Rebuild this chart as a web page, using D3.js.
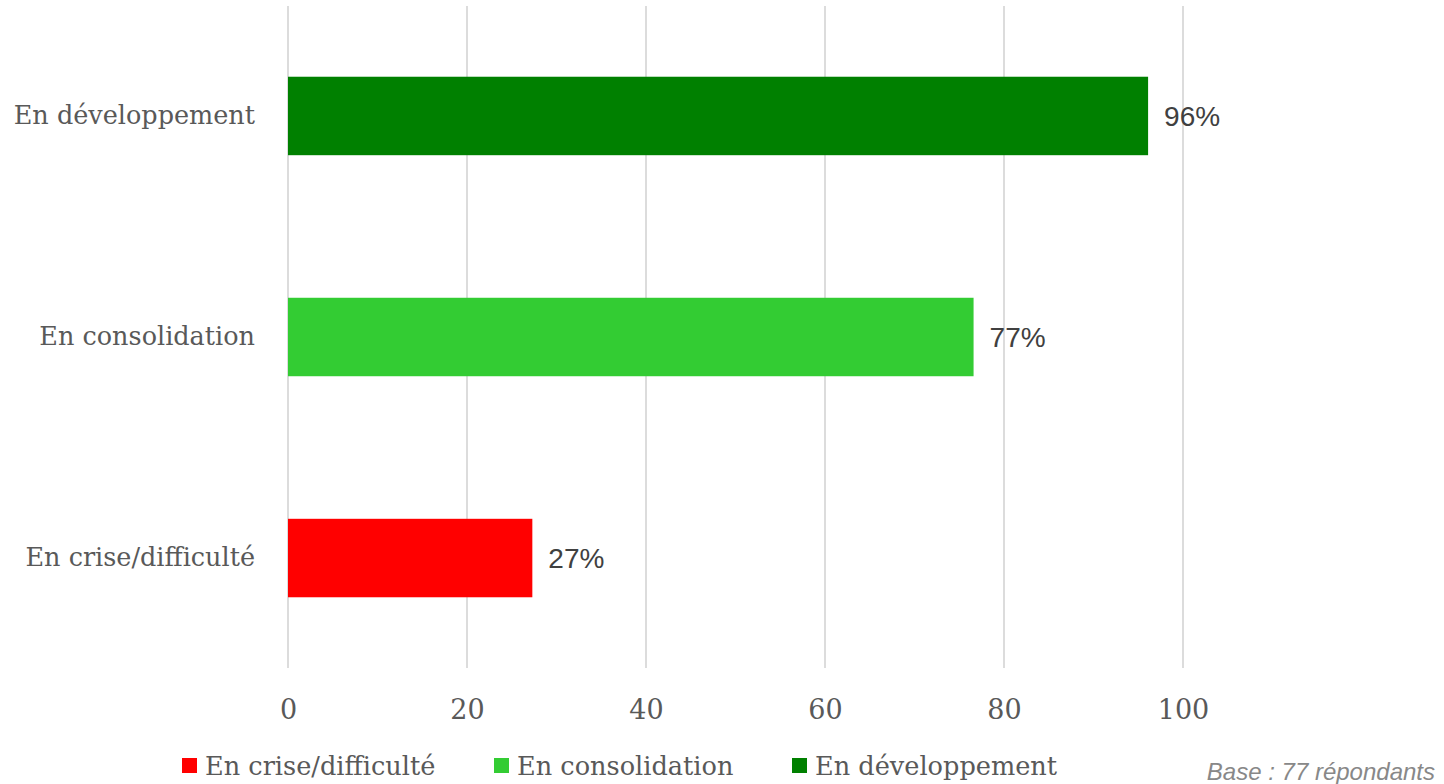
<!DOCTYPE html>
<html><head><meta charset="utf-8">
<script src="https://cdn.jsdelivr.net/npm/d3@7"></script>
<style>body{margin:0;background:#fff;} svg{display:block;}</style>
</head><body>
<svg id="chart" width="1444" height="784"></svg>
<script>
const categories = ["En développement", "En consolidation", "En crise/difficulté"];
const values = [96.1, 76.6, 27.3];
const valueLabels = ["96%", "77%", "27%"];
const colors = ["#008000", "#33cc33", "#ff0000"];
const ticks = [0, 20, 40, 60, 80, 100];
const legendItems = ["En crise/difficulté", "En consolidation", "En développement"];
const legendColors = ["#ff0000", "#33cc33", "#008000"];
const note = "Base : 77 répondants";

const svg = d3.select("#chart");
const serif = "'DejaVu Serif', 'Liberation Serif', serif";
const sans = "'Liberation Sans', Arial, sans-serif";

const x = d3.scaleLinear().domain([0, 100]).range([288, 1183]);
const y = d3.scaleBand().domain(categories).range([6, 668]).paddingInner(0.645).paddingOuter(0.32);

// gridlines
svg.append("g").selectAll("line").data(ticks).join("line")
  .attr("x1", d => x(d)).attr("x2", d => x(d))
  .attr("y1", 6).attr("y2", 668)
  .attr("stroke", "#dcdcdc").attr("stroke-width", 2);

// x axis labels
const xAxis = d3.axisBottom(x).tickValues(ticks).tickSize(0).tickPadding(0);
const gx = svg.append("g").attr("transform", "translate(0,719)").call(xAxis);
gx.select(".domain").remove();
gx.selectAll("text").attr("font-family", serif).attr("font-size", 27).attr("fill", "#595959").attr("dy", 0);

// y axis labels
const yAxis = d3.axisLeft(y).tickSize(0).tickPadding(0);
const gy = svg.append("g").attr("transform", "translate(255,0)").call(yAxis);
gy.select(".domain").remove();
gy.selectAll("text").attr("font-family", serif).attr("font-size", 25.5).attr("fill", "#595959").attr("dy", "0.32em");

// bars
svg.append("g").selectAll("rect").data(categories).join("rect")
  .attr("x", x(0)).attr("y", d => y(d))
  .attr("width", (d, i) => x(values[i]) - x(0))
  .attr("height", y.bandwidth())
  .attr("fill", (d, i) => colors[i]);

// value labels
svg.append("g").selectAll("text").data(categories).join("text")
  .attr("x", (d, i) => x(values[i]) + 16)
  .attr("y", d => y(d) + y.bandwidth() / 2)
  .attr("dy", "0.35em")
  .attr("font-family", sans).attr("font-size", 28).attr("fill", "#404040")
  .text((d, i) => valueLabels[i]);

// legend
const legendX = [182, 494, 792];
const lg = svg.append("g").selectAll("g").data(legendItems).join("g")
  .attr("transform", (d, i) => `translate(${legendX[i]},0)`);
lg.append("rect").attr("x", 0).attr("y", 758).attr("width", 15).attr("height", 15)
  .attr("fill", (d, i) => legendColors[i]);
lg.append("text").attr("x", 23).attr("y", 775)
  .attr("font-family", serif).attr("font-size", 25.6).attr("fill", "#595959")
  .text(d => d);

// note
svg.append("text").attr("x", 1435).attr("y", 780).attr("text-anchor", "end")
  .attr("font-family", sans).attr("font-style", "italic").attr("font-size", 24).attr("fill", "#888")
  .text(note);
</script>
</body></html>
